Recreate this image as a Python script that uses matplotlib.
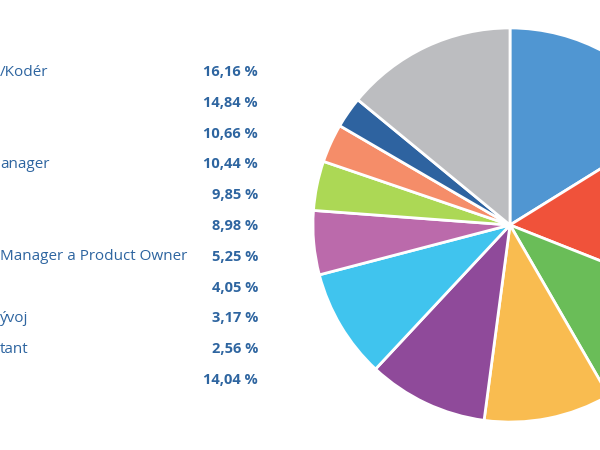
import matplotlib
matplotlib.use("Agg")
import matplotlib.pyplot as plt

labels = ["/Kodér", "", "", "anager", "", "", "Manager a Product Owner", "", "ývoj", "tant", ""]
values = [16.16, 14.84, 10.66, 10.44, 9.85, 8.98, 5.25, 4.05, 3.17, 2.56, 14.04]
pct_labels = ["16,16 %", "14,84 %", "10,66 %", "10,44 %", "9,85 %", "8,98 %",
              "5,25 %", "4,05 %", "3,17 %", "2,56 %", "14,04 %"]
colors = ["#5096d2", "#f0523a", "#6abd58", "#f9bc50", "#8f4a9a", "#40c4ee",
          "#bb6aab", "#acd855", "#f58d69", "#2e63a0", "#bcbdc0"]

fig = plt.figure(figsize=(6, 4.5), dpi=100)
W, H = 600, 450
cx, cy, r = 510, 225, 201
ax = fig.add_axes([(cx - r) / W, (H - cy - r) / H, 2 * r / W, 2 * r / H])
ax.pie(values, colors=colors, startangle=90, counterclock=False, radius=1,
       wedgeprops=dict(edgecolor="white", linewidth=2))
ax.set_xlim(-1.02, 1.02)
ax.set_ylim(-1.02, 1.02)
ax.set_aspect("equal")
ax.axis("off")

y0, dy = 72, 30.8
for i, (lab, p) in enumerate(zip(labels, pct_labels)):
    y = 1 - (y0 + i * dy) / H
    fig.text(0 / W, y, lab, ha="left", va="center", fontsize=11,
             color="#2e65a0", family="Open Sans")
    fig.text(258 / W, y, p, ha="right", va="center", fontsize=10.5,
             color="#2e65a0", fontweight="bold", family="Open Sans")

fig.savefig("out.png", dpi=100)
